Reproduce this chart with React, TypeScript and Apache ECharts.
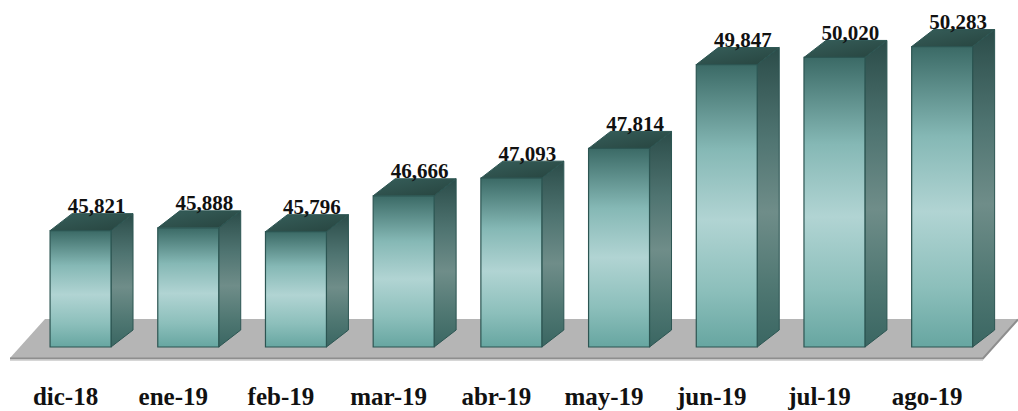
import React, { useEffect, useRef } from "react";
import * as echarts from "echarts";

const categories = ["dic-18", "ene-19", "feb-19", "mar-19", "abr-19", "may-19", "jun-19", "jul-19", "ago-19"];
const values = [45821, 45888, 45796, 46666, 47093, 47814, 49847, 50020, 50283];
const axisMin = 43000;
const axisMax = 51000;

const DX = 22;
const DY = 17;
const FONT = "Liberation Serif";

export default function App() {
  const ref = useRef<HTMLDivElement>(null);
  useEffect(() => {
    if (!ref.current) return;
    const chart = echarts.init(ref.current, undefined, { renderer: "svg" });
    const fmt = (v: number) => v.toLocaleString("en-US");
    const option: any = {
      animation: false,
      backgroundColor: "#ffffff",
      grid: { left: 26.7, right: 22, top: 17, bottom: 64 },
      xAxis: {
        type: "category",
        data: categories,
        axisLine: { show: false },
        axisTick: { show: false },
        axisLabel: {
          interval: 0,
          margin: 37,
          fontFamily: FONT,
          fontWeight: "bold",
          fontSize: 25,
          color: "#111111",
          padding: [0, 30, 0, 0],
        },
      },
      yAxis: {
        type: "value",
        min: axisMin,
        max: axisMax,
        show: false,
        splitLine: { show: false },
      },
      graphic: [
        {
          type: "polygon",
          z: 0,
          silent: true,
          shape: { points: [[10, 358], [45, 319], [1018, 319], [983, 358]] },
          style: { fill: "#b5b5b5" },
        },
        {
          type: "polyline",
          z: 1,
          silent: true,
          shape: { points: [[10, 358.5], [983, 358.5], [1018, 319.5]] },
          style: { stroke: "#8e8e8e", lineWidth: 2, fill: null },
        },
        {
          type: "line",
          z: 1,
          silent: true,
          shape: { x1: 10, y1: 360.5, x2: 983, y2: 360.5 },
          style: { stroke: "#d6d6d6", lineWidth: 1 },
        },
      ],
      series: [
        {
          type: "custom",
          z: 10,
          data: values.map((v, i) => [i, v]),
          renderItem: (params: any, api: any) => {
            const idx = api.value(0);
            const val = api.value(1);
            const top = api.coord([idx, val]);
            const base = api.coord([idx, axisMin]);
            const w = api.size([1, 0])[0] * 0.566;
            const l = top[0] - w / 2;
            const r = top[0] + w / 2;
            const t = top[1];
            const b = base[1];
            const stroke = "#2c5552";
            return {
              type: "group",
              children: [
                {
                  type: "polygon",
                  shape: { points: [[r, t], [r + DX, t - DY], [r + DX, b - DY], [r, b]] },
                  style: {
                    fill: new echarts.graphic.LinearGradient(0, 0, 0, 1, [
                      { offset: 0, color: "#2b4c49" },
                      { offset: 0.3, color: "#4f7471" },
                      { offset: 0.55, color: "#6f8d89" },
                      { offset: 0.8, color: "#4f7772" },
                      { offset: 1, color: "#3a6662" },
                    ]),
                    stroke,
                    lineWidth: 1,
                  },
                },
                {
                  type: "polygon",
                  shape: { points: [[l, t], [l + DX, t - DY], [r + DX, t - DY], [r, t]] },
                  style: {
                    fill: new echarts.graphic.LinearGradient(0, 0, 1, 1, [
                      { offset: 0, color: "#365e5a" },
                      { offset: 1, color: "#27443f" },
                    ]),
                    stroke,
                    lineWidth: 1,
                  },
                },
                {
                  type: "rect",
                  shape: { x: l, y: t, width: w, height: b - t },
                  style: {
                    fill: new echarts.graphic.LinearGradient(0, 0, 0, 1, [
                      { offset: 0, color: "#3b6a66" },
                      { offset: 0.3, color: "#85b8b5" },
                      { offset: 0.55, color: "#b1d4d3" },
                      { offset: 0.8, color: "#8cbfbb" },
                      { offset: 1, color: "#67a6a1" },
                    ]),
                    stroke,
                    lineWidth: 1.2,
                  },
                },
                {
                  type: "text",
                  x: top[0] + 16,
                  y: t - DY + 3,
                  style: {
                    text: fmt(val),
                    fontFamily: FONT,
                    fontWeight: "bold",
                    fontSize: 21,
                    fill: "#111111",
                    align: "center",
                    verticalAlign: "bottom",
                  },
                },
              ],
            };
          },
        },
      ],
    };
    chart.setOption(option);
    return () => chart.dispose();
  }, []);
  return (
    <div
      ref={ref}
      style={{ position: "fixed", left: 0, top: 0, width: 1018, height: 411 }}
    />
  );
}
